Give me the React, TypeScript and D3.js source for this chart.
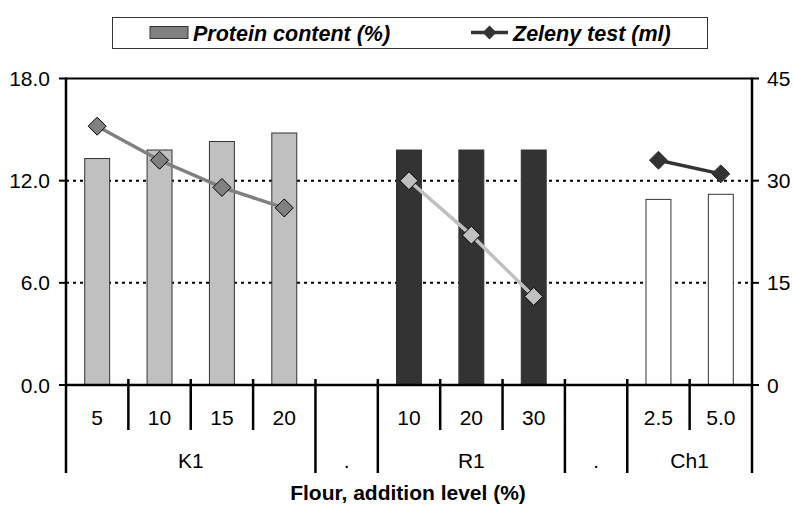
import React from "react";
import * as d3 from "d3";

const categories = ["5", "10", "15", "20", "", "10", "20", "30", "", "2.5", "5.0"];
const groupLabels = ["K1", ".", "R1", ".", "Ch1"];
const groupSizes = [4, 1, 3, 1, 2];
const protein: (number | null)[] = [13.3, 13.8, 14.3, 14.8, null, 13.8, 13.8, 13.8, null, 10.9, 11.2];
const zeleny: (number | null)[] = [38, 33, 29, 26, null, 30, 22, 13, null, 33, 31];
const leftTicks = [0, 6, 12, 18];
const rightTicks = [0, 15, 30, 45];
const seriesNames = ["Protein content (%)", "Zeleny test (ml)"];
const axisTitle = "Flour, addition level (%)";

const barFills = ["#c0c0c0", "none", "#333333", "none", "#ffffff"];
const lineColors = ["#808080", "none", "#c0c0c0", "none", "#333333"];
const markerStrokes = ["#000000", "none", "#000000", "none", "#333333"];

const W = 793, H = 505;
const L = 66, R = 752, T = 78.5, B = 385;
const FONT = "'Liberation Sans', Arial, sans-serif";
const FS = 21;

export default function App() {
  const idx = categories.map((_, i) => String(i));
  const x = d3.scaleBand<string>().domain(idx).range([L, R]).paddingInner(0).paddingOuter(0);
  const yL = d3.scaleLinear().domain([0, 18]).range([B, T]);
  const yR = d3.scaleLinear().domain([0, 45]).range([B, T]);
  const bw = x.bandwidth();
  const barW = bw * 0.4;

  const groupOf: number[] = [];
  const groupStart: number[] = [];
  let s = 0;
  groupSizes.forEach((n, g) => {
    groupStart.push(s);
    for (let k = 0; k < n; k++) groupOf.push(g);
    s += n;
  });

  const cx = (i: number) => (x(String(i)) as number) + bw / 2;
  const boundaries = d3.range(0, categories.length + 1).map((i) => L + i * bw);
  const groupEdges = new Set<number>();
  groupStart.forEach((st) => groupEdges.add(st));
  groupEdges.add(categories.length);

  const line = d3.line<[number, number]>().x((d) => d[0]).y((d) => d[1]);
  const diamond = (px: number, py: number, r: number) =>
    `M${px},${py - r}L${px + r},${py}L${px},${py + r}L${px - r},${py}Z`;

  return (
    <svg width={W} height={H} style={{ position: "absolute", left: 0, top: 0, background: "#fff" }} fontFamily={FONT}>
      {/* legend */}
      <rect x={112.5} y={17.5} width={595} height={31} fill="#fff" stroke="#333" strokeWidth={1} />
      <rect x={150} y={26.5} width={38} height={12} fill="#808080" stroke="#333" strokeWidth={1} />
      <text x={193} y={40.5} fontSize={21.5} fontWeight="bold" fontStyle="italic">{seriesNames[0]}</text>
      <path d={`M471,32.5L508,32.5`} stroke="#333" strokeWidth={3.5} />
      <path d={diamond(489.5, 32.5, 7)} fill="#333" />
      <text x={513} y={40.5} fontSize={21.5} fontWeight="bold" fontStyle="italic">{seriesNames[1]}</text>

      {/* gridlines */}
      {leftTicks.filter((t) => t > 0 && t < 18).map((t) => (
        <line key={t} x1={L} x2={R} y1={yL(t)} y2={yL(t)} stroke="#000" strokeWidth={2} strokeDasharray="3,4" />
      ))}
      <line x1={L} x2={R} y1={yL(18)} y2={yL(18)} stroke="#000" strokeWidth={2} />

      {/* bars */}
      {protein.map((v, i) =>
        v == null ? null : (
          <rect key={i} x={cx(i) - barW / 2} y={yL(v)} width={barW} height={B - yL(v)}
            fill={barFills[groupOf[i]]} stroke="#333" strokeWidth={1} />
        )
      )}

      {/* lines */}
      {groupSizes.map((n, g) => {
        const pts: [number, number][] = [];
        for (let k = 0; k < n; k++) {
          const i = groupStart[g] + k;
          const v = zeleny[i];
          if (v != null) pts.push([cx(i), yR(v)]);
        }
        if (pts.length === 0) return null;
        return (
          <g key={g}>
            <path d={line(pts) || ""} fill="none" stroke={lineColors[g]} strokeWidth={3.5} />
            {pts.map((p, j) => (
              <path key={j} d={diamond(p[0], p[1], 9)} fill={lineColors[g]} stroke={markerStrokes[g]} strokeWidth={1} />
            ))}
          </g>
        );
      })}

      {/* axes */}
      <line x1={L} x2={L} y1={T - 1} y2={473} stroke="#000" strokeWidth={2.5} />
      <line x1={R} x2={R} y1={T - 1} y2={473} stroke="#000" strokeWidth={2.5} />
      <line x1={L} x2={R} y1={B} y2={B} stroke="#000" strokeWidth={2.5} />
      {leftTicks.map((t) => (
        <g key={t}>
          <line x1={L - 7} x2={L} y1={yL(t)} y2={yL(t)} stroke="#000" strokeWidth={2} />
          <text x={50} y={yL(t) + 7.5} fontSize={FS} textAnchor="end">{t.toFixed(1)}</text>
        </g>
      ))}
      {rightTicks.map((t) => (
        <g key={t}>
          <line x1={R} x2={R + 7} y1={yR(t)} y2={yR(t)} stroke="#000" strokeWidth={2} />
          <text x={767} y={yR(t) + 7.5} fontSize={FS} textAnchor="start">{t}</text>
        </g>
      ))}

      {/* category ticks */}
      {boundaries.map((bx, i) => {
        if (i === 0 || i === categories.length) return null;
        const long = groupEdges.has(i);
        return <line key={i} x1={bx} x2={bx} y1={B - 6} y2={long ? 473 : 430} stroke="#000" strokeWidth={2.5} />;
      })}
      {categories.map((c, i) => (
        <text key={i} x={cx(i)} y={424.5} fontSize={FS} textAnchor="middle">{c}</text>
      ))}
      {groupLabels.map((gl, g) => {
        const a = L + groupStart[g] * bw;
        const b = L + (groupStart[g] + groupSizes[g]) * bw;
        return <text key={g} x={(a + b) / 2} y={467.5} fontSize={FS} textAnchor="middle">{gl}</text>;
      })}
      <text x={408} y={500} fontSize={21} fontWeight="bold" textAnchor="middle">{axisTitle}</text>
    </svg>
  );
}
